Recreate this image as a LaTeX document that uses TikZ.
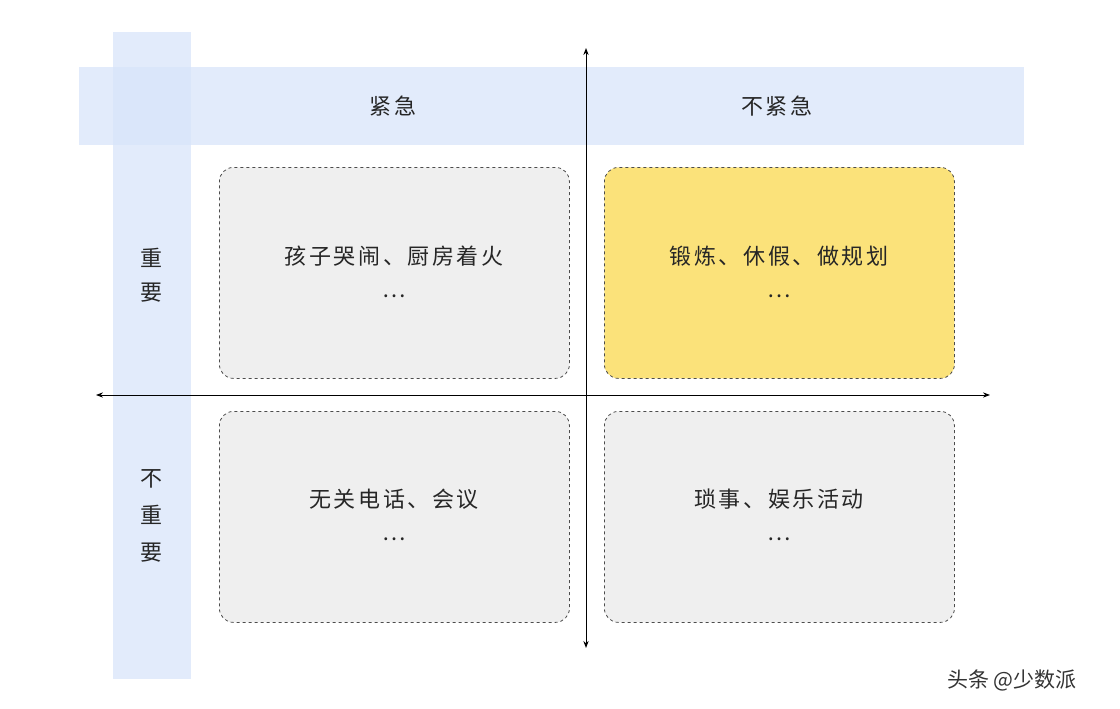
\documentclass[tikz,border=0pt]{standalone}
\usepackage{fontspec}
\newfontfamily\cjk[LetterSpace=12]{Noto Sans CJK SC}
\newfontfamily\cjkw{Noto Sans CJK SC}
\usetikzlibrary{arrows.meta}
\definecolor{band}{HTML}{D6E3FA}
\definecolor{boxg}{HTML}{EFEFEF}
\definecolor{boxy}{HTML}{FBE27A}
\tikzset{
 quad/.style={draw=black!70,dashed,rounded corners=14pt,line width=0.8pt,minimum width=350pt,minimum height=211pt,anchor=north west},
 lbl/.style={font=\cjk\fontsize{22}{26}\selectfont,text=black!85},
 axis/.style={line width=1pt,{Stealth[length=7pt]}-{Stealth[length=7pt]}}
}
\begin{document}
\begin{tikzpicture}[x=1pt,y=-1pt]
\useasboundingbox (0,0) rectangle (1120,709);
\fill[band,opacity=0.7] (79,67) rectangle (1024,145);
\fill[band,opacity=0.7] (113,32) rectangle (191,679);
\node[quad,fill=boxg] (tl) at (219,167) {};
\node[quad,fill=boxy] (tr) at (604,167) {};
\node[quad,fill=boxg] (bl) at (219,411) {};
\node[quad,fill=boxg] (br) at (604,411) {};
\coordinate (hl) at (96,395); \coordinate (hr) at (990,395);
\coordinate (vt) at (586,48); \coordinate (vb) at (586,648);
\draw[axis] (hl) -- (hr);
\draw[axis] (vt) -- (vb);
\node[lbl] (c1) at (393,106) {紧急};
\node[lbl] (c2) at (777,106) {不紧急};
\node[lbl,align=center,font=\cjkw\fontsize{22}{34}\selectfont] (r1) at (151,275) {重\\要};
\node[lbl,align=center,font=\cjkw\fontsize{22}{37}\selectfont] (r2) at (151,516) {不\\重\\要};
\node[lbl] (t1) at (394,256) {孩子哭闹、厨房着火};
\node[lbl] (d1) at (394,296) {…};
\node[lbl] (t2) at (779,256) {锻炼、休假、做规划};
\node[lbl] (d2) at (779,296) {…};
\node[lbl] (t3) at (394,499) {无关电话、会议};
\node[lbl] (d3) at (394,539) {…};
\node[lbl] (t4) at (779,499) {琐事、娱乐活动};
\node[lbl] (d4) at (779,539) {…};
\node[font=\cjkw\fontsize{21}{24}\selectfont,text=black!80] (wm) at (1012,680) {头条 @少数派};
\end{tikzpicture}
\end{document}
